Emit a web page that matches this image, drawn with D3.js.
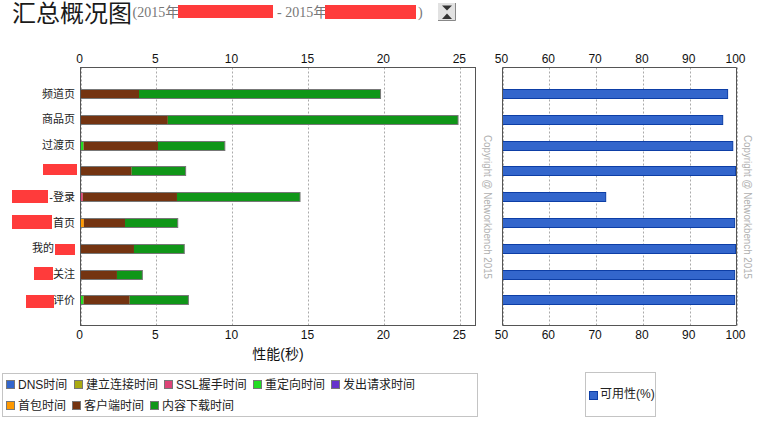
<!DOCTYPE html>
<html><head><meta charset="utf-8">
<script src="https://cdnjs.cloudflare.com/ajax/libs/d3/7.8.5/d3.min.js"></script>
<style>html,body{margin:0;padding:0;background:#fff;overflow:hidden}svg{display:block}
text{font-family:"Liberation Sans","Noto Sans CJK SC",sans-serif}</style></head>
<body><svg id="c" width="762" height="428"></svg>
<script>
const categories=["频道页","商品页","过渡页","","-登录","首页","我的","关注","评价"];
const seriesNames=["DNS时间","建立连接时间","SSL握手时间","重定向时间","发出请求时间","首包时间","客户端时间","内容下载时间"];
const seriesColors=["#3366cc","#aaaa11","#dd4477","#22dd22","#6633cc","#ff9900","#743411","#109618"];
const dnsTime=[0,0,0,0,0,0,0,0,0];
const connectTime=[0,0,0,0,0,0,0,0,0];
const sslTime=[0,0,0,0,0.15,0,0,0,0];
const redirectTime=[0,0,0.2,0,0,0,0,0,0.2];
const requestTime=[0,0,0,0,0,0,0,0,0];
const firstByteTime=[0,0,0,0,0,0.22,0,0,0];
const clientTime=[3.85,5.75,4.9,3.37,6.2,2.71,3.52,2.4,3.04];
const contentTime=[15.9,19.1,4.4,3.55,8.1,3.47,3.31,1.67,3.86];
const availability=[98.1,97.05,99.2,99.8,72.05,99.6,99.8,99.6,99.6];
const perfTicks=[0,5,10,15,20,25];
const availTicks=[50,60,70,80,90,100];
const redactions=[[178,5,95,13],[325,5,91,14],[43,164,34,11],[12,190,36,13],[12,215,40,14],[55,244,20,11],[34,267,19,13],[26,295,28,13]];
const labelRight=[75,75,75,75,75,75,54,75,75];

const svg=d3.select("#c");
const seriesValues=[dnsTime,connectTime,sslTime,redirectTime,requestTime,firstByteTime,clientTime,contentTime];
const rows=categories.map((c,i)=>{const o={i};seriesNames.forEach((n,j)=>o[n]=seriesValues[j][i]);return o;});
const stacked=d3.stack().keys(seriesNames)(rows);
const x=d3.scaleLinear().domain([0,26]).range([80.5,475.5]);
const x2=d3.scaleLinear().domain([50,100]).range([502.5,736.5]);
const y=d3.scalePoint().domain(d3.range(categories.length)).range([68.2,326.2]).padding(1);
const barH=9;
const barTop=i=>Math.round(y(i)-barH/2-.5)+.5;

const titleColor="#1a1a1a", subColor="#777";
const subFont='"Liberation Serif","Noto Sans CJK SC"';
svg.append("text").attr("x",12).attr("y",22).attr("font-size",24).attr("fill",titleColor)
  .style("font-family",subFont).text("汇总概况图");
svg.append("text").attr("x",132.5).attr("y",17).attr("font-size",14).attr("fill",subColor).style("font-family",subFont).text("(2015年");
svg.append("text").attr("x",277).attr("y",17).attr("font-size",14).attr("fill",subColor).style("font-family",subFont).text("- 2015年");
svg.append("text").attr("x",418).attr("y",17).attr("font-size",14).attr("fill",subColor).style("font-family",subFont).text(")");

const btn=svg.append("g");
btn.append("rect").attr("x",438).attr("y",3).attr("width",18).attr("height",18).attr("fill","#e2e2e2");
btn.append("path").attr("d","M455.5 3V20.5H438").attr("fill","none").attr("stroke","#888");
btn.append("path").attr("d","M442 5.5H452L447 10.5Z").attr("fill","#333");
btn.append("path").attr("d","M442 19H452L447 13.5Z").attr("fill","#333");

function drawFrame(sc,ticks){
  svg.append("g").selectAll("line").data(ticks).join("line")
    .attr("x1",d=>Math.round(sc(d))+.5).attr("x2",d=>Math.round(sc(d))+.5).attr("y1",67.5).attr("y2",325.5)
    .attr("stroke","#aaa").attr("stroke-dasharray","2,2");
  const top=svg.append("g").attr("transform","translate(-1.5,67.5)").call(d3.axisTop(sc).tickValues(ticks).tickSize(0).tickPadding(5));
  const bot=svg.append("g").attr("transform","translate(-1.5,325.5)").call(d3.axisBottom(sc).tickValues(ticks).tickSize(0).tickPadding(5));
  [top,bot].forEach(a=>{a.select(".domain").remove();a.selectAll("text").attr("font-size",12).attr("fill","#111").style("font-family",'"Liberation Sans"');});
}
drawFrame(x,perfTicks);
drawFrame(x2,availTicks);

const layer=svg.append("g").selectAll("g").data(stacked).join("g").attr("fill",(d,i)=>seriesColors[i]);
layer.selectAll("rect").data(d=>d.filter(s=>s[1]>s[0])).join("rect")
  .attr("x",d=>x(d[0])).attr("width",d=>x(d[1])-x(d[0]))
  .attr("y",d=>barTop(d.data.i)).attr("height",barH);
svg.append("g").selectAll("rect").data(rows).join("rect")
  .attr("x",x(0)).attr("width",d=>x(d3.sum(seriesNames,n=>d[n]))-x(0))
  .attr("y",d=>barTop(d.i)).attr("height",barH)
  .attr("fill","none").attr("stroke","#777").attr("stroke-width",1);

svg.append("g").selectAll("rect").data(availability).join("rect")
  .attr("x",x2(50)).attr("width",d=>x2(d)-x2(50))
  .attr("y",(d,i)=>barTop(i)).attr("height",barH)
  .attr("fill","#3366cc").attr("stroke","#0d3ea6").attr("stroke-width",1);

svg.append("rect").attr("x",80.5).attr("y",67.5).attr("width",395).attr("height",258).attr("fill","none").attr("stroke","#555");
svg.append("path").attr("d","M502.5 325.5V67.5H736.5V325.5H502.5").attr("fill","none").attr("stroke","#555");

svg.append("g").selectAll("text").data(categories).join("text")
  .attr("x",(d,i)=>labelRight[i]).attr("y",(d,i)=>y(i)+3.5).attr("text-anchor","end").attr("font-size",11).attr("fill","#222").text(d=>d);

[488,748].forEach(px=>{
  svg.append("text").attr("transform",`translate(${px},135) rotate(90)`).attr("font-size",10.5).attr("fill","#b0b0b0")
    .attr("textLength",144).attr("lengthAdjust","spacingAndGlyphs")
    .style("font-family",'"Liberation Sans"').attr("dy","0.35em").text("Copyright @ Networkbench 2015");
});

svg.append("text").attr("x",278).attr("y",359).attr("text-anchor","middle").attr("font-size",14).attr("fill","#111").text("性能(秒)");

svg.append("g").selectAll("rect").data(redactions).join("rect")
  .attr("x",d=>d[0]).attr("y",d=>d[1]).attr("width",d=>d[2]).attr("height",d=>d[3]).attr("fill","#ff3b3b");

svg.append("rect").attr("x",2.5).attr("y",373.5).attr("width",475).attr("height",43).attr("fill","none").attr("stroke","#c4c4c4");
const legendX=[6,74,164,253,331,6,72,150];
const legendRow=[0,0,0,0,0,1,1,1];
const lg=svg.append("g").selectAll("g").data(seriesNames).join("g")
  .attr("transform",(d,i)=>`translate(${legendX[i]},${legendRow[i]?401:380})`);
lg.append("rect").attr("x",.5).attr("y",.5).attr("width",8).attr("height",8)
  .attr("fill",(d,i)=>seriesColors[i]).attr("stroke","#777");
lg.append("text").attr("x",12).attr("y",9).attr("font-size",12).attr("fill","#222").text(d=>d);

svg.append("rect").attr("x",585.5).attr("y",372.5).attr("width",70).attr("height",44).attr("fill","none").attr("stroke","#c4c4c4");
svg.append("rect").attr("x",589.5).attr("y",391.5).attr("width",8).attr("height",8).attr("fill","#3366cc").attr("stroke","#0d3ea6");
svg.append("text").attr("x",600).attr("y",398).attr("font-size",12).attr("fill","#222").text("可用性(%)");
</script></body></html>
